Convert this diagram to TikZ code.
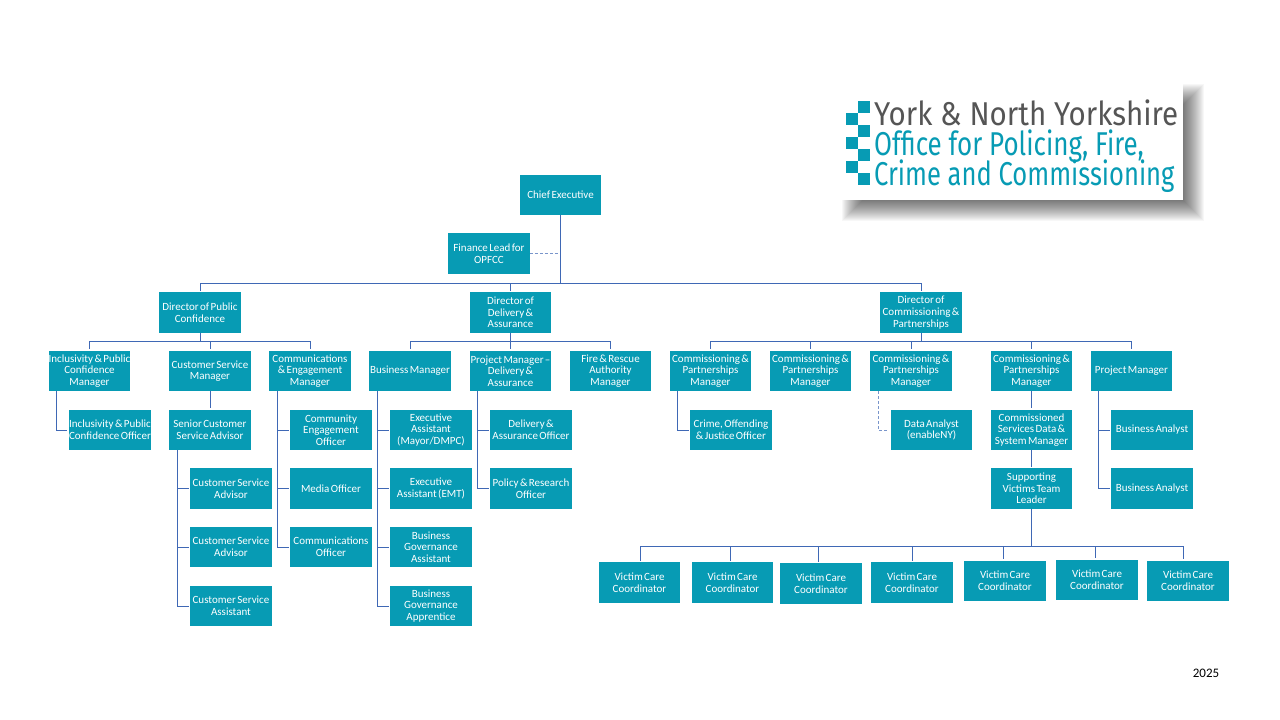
\documentclass[tikz,border=0pt]{standalone}
\usepackage{fontspec}
\setmainfont{Carlito}[WordSpace=0.55]
\newfontfamily\logofont[FakeStretch=0.86]{Fira Sans}
\usepackage{xcolor}
\usetikzlibrary{calc}
\definecolor{teal}{HTML}{079BB4}
\definecolor{linea}{HTML}{3F68B5}
\definecolor{tinta}{HTML}{555555}
\tikzset{
  post/.style={fill=teal,text=white,inner sep=0pt,minimum width=81.5pt,minimum height=40.5pt,
    align=center,font=\fontsize{11}{11.6}\selectfont},
  link/.style={draw=linea,line width=1pt,shorten >=1.5pt},
  linkdash/.style={link,dashed,dash pattern=on 3pt off 2pt,draw=linea!70},
  logoline/.style={anchor=base west,inner sep=0pt,transform shape,font=\logofont\fontsize{33}{33}\selectfont}
}
\begin{document}
\begin{tikzpicture}[x=1pt,y=-1pt]
\useasboundingbox (0,0) rectangle (1280,720);
\fill[white] (0,0) rectangle (1280,720);
% logo
\foreach \s in {0,1,...,21}{
  \fill[black,opacity=0.03] ({842+\s},{84+\s}) rectangle ({1204-\s},{221-\s});
}
\fill[white] (842,84) rectangle (1183,200);
\foreach \n/\x in {0/1,1/0,2/1,3/0,4/1,5/0,6/1}{
  \fill[teal] ({845.7+12*\x},{100.7+12*\n}) rectangle ++(12,12);
}
\node[logoline,text=tinta,xscale=1.04] (logoa) at (874,125) {York \& North Yorkshire};
\node[logoline,text=teal,xscale=0.915] (logob) at (874,155) {Office for Policing, Fire,};
\node[logoline,text=teal,xscale=0.90] (logoc) at (874,185) {Crime and Commissioning};
% top
\node[post] (ceo) at (560.5,195) {Chief Executive};
\node[post] (fin) at (489,253.5) {Finance Lead for\\OPFCC};
\node[post] (dirp) at (200,312.5) {Director of Public\\Confidence};
\node[post] (dird) at (510.5,312.5) {Director of\\Delivery \&\\Assurance};
\node[post] (dirc) at (921,312.5) {Director of\\Commissioning \&\\Partnerships};
% managers
\node[post] (incl) at (89.5,371) {Inclusivity \& Public\\Confidence\\Manager};
\node[post] (csm) at (210,371) {Customer Service\\Manager};
\node[post] (cem) at (310,371) {Communications\\\& Engagement\\Manager};
\node[post] (bm) at (410,371) {Business Manager};
\node[post] (pm) at (510.5,371) {Project Manager --\\Delivery \&\\Assurance};
\node[post] (fire) at (610.5,371) {Fire \& Rescue\\Authority\\Manager};
\node[post] (cpa) at (710.5,371) {Commissioning \&\\Partnerships\\Manager};
\node[post] (cpb) at (810.5,371) {Commissioning \&\\Partnerships\\Manager};
\node[post] (cpc) at (911,371) {Commissioning \&\\Partnerships\\Manager};
\node[post] (cpd) at (1031.5,371) {Commissioning \&\\Partnerships\\Manager};
\node[post] (prm) at (1131.5,371) {Project Manager};
% staff
\node[post] (inco) at (110,430) {Inclusivity \& Public\\Confidence Officer};
\node[post] (scsa) at (210,430) {Senior Customer\\Service Advisor};
\node[post] (csaa) at (231,488.5) {Customer Service\\Advisor};
\node[post] (csab) at (231,547) {Customer Service\\Advisor};
\node[post] (csac) at (231,606) {Customer Service\\Assistant};
\node[post] (ceng) at (331,430) {Community\\Engagement\\Officer};
\node[post] (medo) at (331,488.5) {Media Officer};
\node[post] (como) at (331,547) {Communications\\Officer};
\node[post] (exa) at (431,430) {Executive\\Assistant\\(Mayor/DMPC)};
\node[post] (exb) at (431,488.5) {Executive\\Assistant (EMT)};
\node[post] (bga) at (431,547) {Business\\Governance\\Assistant};
\node[post] (bgb) at (431,606) {Business\\Governance\\Apprentice};
\node[post] (dao) at (531,430) {Delivery \&\\Assurance Officer};
\node[post] (pro) at (531,488.5) {Policy \& Research\\Officer};
\node[post] (coj) at (731,430) {Crime, Offending\\\& Justice Officer};
\node[post] (dan) at (931.5,430) {Data Analyst\\(enableNY)};
\node[post] (csd) at (1031.5,430) {Commissioned\\Services Data \&\\System Manager};
\node[post] (svt) at (1031.5,488.5) {Supporting\\Victims Team\\Leader};
\node[post] (baa) at (1152,430) {Business Analyst};
\node[post] (bab) at (1152,488.5) {Business Analyst};
\foreach \n/\x/\y in {1/639.5/582.5,2/732.5/582.5,3/821/583.5,4/912/582.5,5/1005/581,6/1097/580,7/1188/581}{
  \node[post] (v\n) at (\x,\y) {Victim Care\\Coordinator};
}
\node[inner sep=0pt,font=\fontsize{13}{14}\selectfont] (year) at (1206,673) {2025};
% connectors
\foreach \c in {dirp,dird,dirc}{\draw[link] (ceo.south) -- ++(0,68) -| (\c.north);}
\draw[linkdash] (fin.east) -- (fin.east -| ceo.south);
\foreach \c in {incl,csm,cem}{\draw[link] (dirp.south) -- ++(0,9) -| (\c.north);}
\foreach \c in {bm,pm,fire}{\draw[link] (dird.south) -- ++(0,9) -| (\c.north);}
\foreach \c in {cpa,cpb,cpc,cpd,prm}{\draw[link] (dirc.south) -- ++(0,9) -| (\c.north);}
\draw[link] (csm.south) -- (scsa.north);
\draw[link] (cpd.south) -- (csd.north);
\draw[link] (csd.south) -- (svt.north);
\foreach \p/\c in {incl/inco,scsa/csaa,scsa/csab,scsa/csac,cem/ceng,cem/medo,cem/como,bm/exa,bm/exb,bm/bga,bm/bgb,pm/dao,pm/pro,cpa/coj,prm/baa,prm/bab}{
  \draw[link] ([xshift=-33pt]\p.south) |- (\c.west);
}
\draw[linkdash] ([xshift=-33pt]cpc.south) |- (dan.west);
\foreach \n/\d in {1/1,2/-2,3/-2.5,4/0.7,5/-1.4,6/-1.3,7/-4.6}{
  \draw[link] (svt.south) -- ++(0,37.5) -| ([xshift=\d pt]v\n.north);
}
\end{tikzpicture}
\end{document}
